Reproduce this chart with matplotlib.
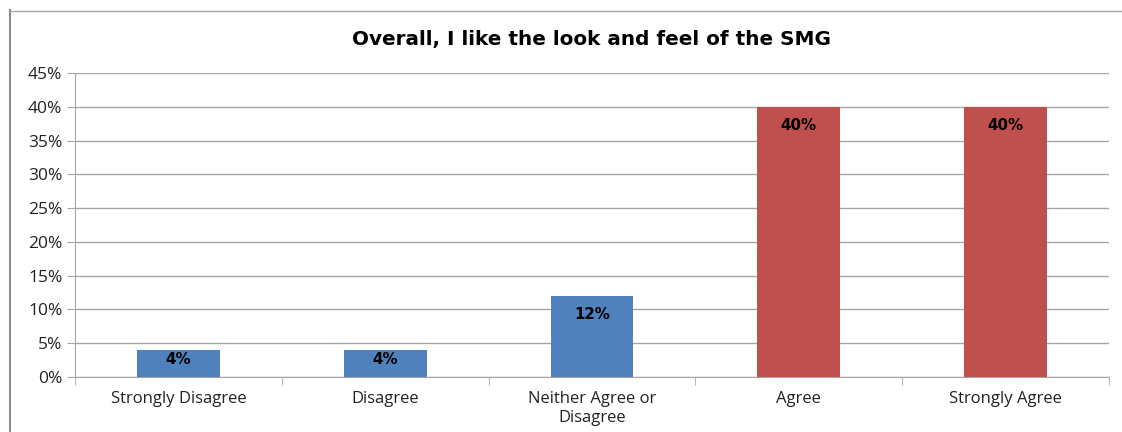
import matplotlib.pyplot as plt
from matplotlib.lines import Line2D
from matplotlib.ticker import PercentFormatter, FixedLocator

categories = ["Strongly Disagree", "Disagree", "Neither Agree or\nDisagree", "Agree", "Strongly Agree"]
values = [4, 4, 12, 40, 40]
bar_colors = ["#4F81BD", "#4F81BD", "#4F81BD", "#C0504D", "#C0504D"]
title = "Overall, I like the look and feel of the SMG"

plt.rcParams["font.family"] = ["Open Sans", "DejaVu Sans"]
bold_font = ["DejaVu Sans"]

W, H = 1122, 432
fig = plt.figure(figsize=(W / 100, H / 100), dpi=100)
ax = fig.add_axes([75 / W, 1 - 377 / H, (1109 - 75) / W, (377 - 73) / H])

x = list(range(len(categories)))
bars = ax.bar(x, values, width=0.4, color=bar_colors, zorder=3)

ax.set_xlim(-0.5, len(categories) - 0.5)
ax.set_ylim(0, 45)
ax.yaxis.set_major_locator(FixedLocator(range(0, 46, 5)))
ax.yaxis.set_major_formatter(PercentFormatter(decimals=0))
ax.grid(axis="y", color="#A6A6A6", linewidth=1, zorder=0)

ax.set_xticks(x)
ax.set_xticklabels(categories, fontsize=12, color="#222222", linespacing=1.25)
ax.set_xticks([i + 0.5 for i in range(-1, len(categories))], minor=True)
ax.tick_params(axis="x", which="major", length=0, pad=10)
ax.tick_params(axis="x", which="minor", length=6, color="#A6A6A6", direction="out")
ax.tick_params(axis="y", length=6, color="#A6A6A6", labelsize=12.5, labelcolor="#222222", pad=3)

for side in ["top", "right"]:
    ax.spines[side].set_visible(False)
for side in ["left", "bottom"]:
    ax.spines[side].set_color("#A6A6A6")

# data labels inside the bar end
for rect, v in zip(bars, values):
    bar_px = v / 45 * (377 - 73)
    off = min(19, bar_px * 0.37)
    ax.annotate(f"{v}%", (rect.get_x() + rect.get_width() / 2, v),
                xytext=(0, -off), textcoords="offset pixels",
                ha="center", va="center", fontsize=10.8, fontweight="bold",
                family=bold_font, color="black", zorder=4)

fig.text((75 + 1109) / 2 / W, 1 - 40 / H, title, ha="center", va="center",
         fontsize=14.4, fontweight="bold", family=bold_font, color="black")

# chart area border (left and top edges)
fig.add_artist(Line2D([10 / W, 10 / W], [0, 1 - 10 / H], transform=fig.transFigure,
                      color="#8C8C8C", linewidth=1.5))
fig.add_artist(Line2D([10 / W, 1], [1 - 11 / H, 1 - 11 / H], transform=fig.transFigure,
                      color="#A6A6A6", linewidth=1))

fig.savefig("out.png", dpi=100)
